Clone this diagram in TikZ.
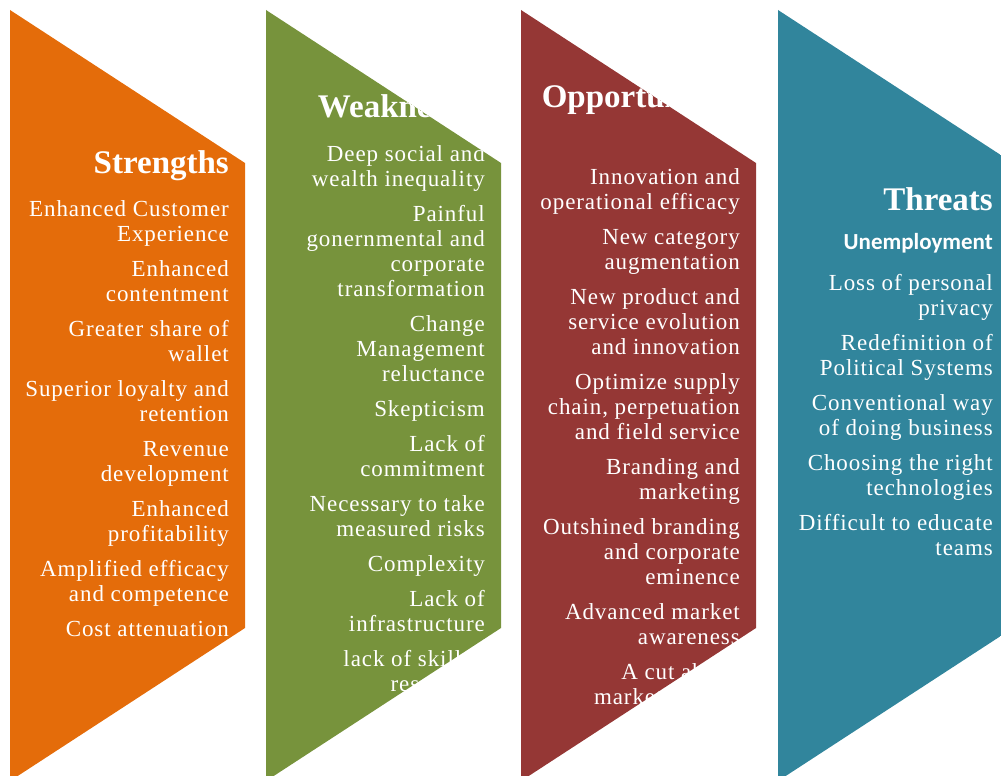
\documentclass[tikz,border=0pt]{standalone}
\usepackage{fontspec}
\setmainfont{Liberation Serif}
\newfontfamily\listfont[LetterSpace=4]{Liberation Serif}
\newfontfamily\calfont{Carlito}
\usetikzlibrary{positioning}
\definecolor{strorange}{HTML}{E46C0A}
\definecolor{weakgreen}{HTML}{77933C}
\definecolor{oppred}{HTML}{953735}
\definecolor{thrteal}{HTML}{31859C}
% chevron column: clip to it and fill it
\newcommand*{\chevfill}[2]{\clip (#1,10) -- ++(235,153) -- ++(0,465) -- ++(-235,153) -- cycle;
  \fill[#2] (#1,0) rectangle ++(240,800);}

\begin{document}
\begin{tikzpicture}[x=1pt,y=-1pt,
  head/.style={text=white,inner sep=0pt,anchor=base east,font=\fontsize{33}{36}\selectfont\bfseries},
  item/.style={text=white,inner sep=0pt,anchor=base east,align=right,font=\listfont\fontsize{23}{25}\selectfont}]
\useasboundingbox (0,0) rectangle (1001,776);
% Strengths (lists sit on the baseline of their last line)
\begin{scope}
  \chevfill{10}{strorange}
  \node[head] (str) at (229,173) {Strengths};
  \node[item] (strlist) at (229,636) {Enhanced Customer\\Experience\\[10pt]
    Enhanced\\contentment\\[10pt]
    Greater share of\\wallet\\[10pt]
    Superior loyalty and\\retention\\[10pt]
    Revenue\\development\\[10pt]
    Enhanced\\profitability\\[10pt]
    Amplified efficacy\\and competence\\[10pt]
    Cost attenuation};
\end{scope}
% Weaknesses
\begin{scope}
  \chevfill{266}{weakgreen}
  \node[head] (weak) at (485,117) {Weaknesses};
  \node[item] (weaklist) at (485,691) {Deep social and\\wealth inequality\\[10pt]
    Painful\\gonernmental and\\corporate\\transformation\\[10pt]
    Change\\Management\\reluctance\\[10pt]
    Skepticism\\[10pt]
    Lack of\\commitment\\[10pt]
    Necessary to take\\measured risks\\[10pt]
    Complexity\\[10pt]
    Lack of\\infrastructure\\[10pt]
    lack of skilled\\resources};
\end{scope}
% Opportunities
\begin{scope}
  \chevfill{521}{oppred}
  \node[head] (opp) at (740,107) {Opportunities};
  \node[item] (opplist) at (740,704) {Innovation and\\operational efficacy\\[10pt]
    New category\\augmentation\\[10pt]
    New product and\\service evolution\\and innovation\\[10pt]
    Optimize supply\\chain, perpetuation\\and field service\\[10pt]
    Branding and\\marketing\\[10pt]
    Outshined branding\\and corporate\\eminence\\[10pt]
    Advanced market\\awareness\\[10pt]
    A cut above\\market leaders};
\end{scope}
% Threats
\begin{scope}
  \chevfill{778}{thrteal}
  \node[head] (thr) at (993,210) {Threats};
  \node[item,font=\calfont\fontsize{23}{25}\selectfont\bfseries] (unemp) at (993,249) {Unemployment};
  \node[item] (thrlist) at (993,555) {Loss of personal\\privacy\\[10pt]
    Redefinition of\\Political Systems\\[10pt]
    Conventional way\\of doing business\\[10pt]
    Choosing the right\\technologies\\[10pt]
    Difficult to educate\\teams};
\end{scope}
\end{tikzpicture}
\end{document}
